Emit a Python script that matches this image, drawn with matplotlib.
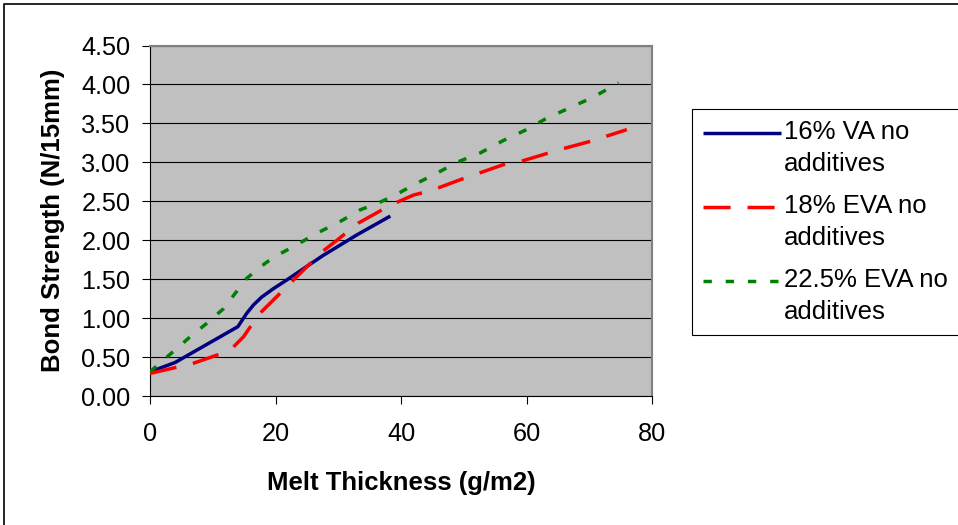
import matplotlib
matplotlib.use("Agg")
import matplotlib.pyplot as plt
from matplotlib.lines import Line2D
from matplotlib.legend_handler import HandlerLine2D

plt.rcParams['font.family'] = ['Liberation Sans', 'DejaVu Sans']
plt.rcParams['lines.scale_dashes'] = False

# ---- data ----
x_16va = [0, 4, 14, 15.4, 16.5, 17.8, 19.7, 21.8, 27.5, 33, 38.3]
y_16va = [0.31, 0.43, 0.89, 1.06, 1.17, 1.27, 1.38, 1.49, 1.80, 2.07, 2.31]

x_18eva = [0, 4.3, 6.9, 11.2, 13.3, 14.9, 16, 17.5, 22, 24.5, 27.4, 29.8, 33.2,
           36.1, 38.3, 42, 44.9, 49.2, 56.3, 59, 65.6, 70.2, 76]
y_18eva = [0.29, 0.37, 0.42, 0.54, 0.63, 0.76, 0.89, 1.06, 1.42, 1.62, 1.85, 2.00, 2.22,
           2.35, 2.45, 2.58, 2.64, 2.77, 2.97, 3.01, 3.17, 3.27, 3.42]

x_225eva = [0, 2.7, 6.4, 9, 11.7, 15.4, 18.3, 19.9, 22.9, 26.6, 30.3, 33.5, 36.7,
            39.1, 42, 45.7, 48.9, 52.6, 56.3, 60, 63.3, 66.9, 70.7, 74.7]
y_225eva = [0.31, 0.50, 0.76, 0.93, 1.12, 1.51, 1.70, 1.79, 1.92, 2.09, 2.24, 2.39, 2.49,
            2.58, 2.71, 2.86, 3.00, 3.12, 3.28, 3.42, 3.57, 3.70, 3.84, 4.02]

labels = ["16% VA no\nadditives", "18% EVA no\nadditives", "22.5% EVA no\nadditives"]
x_ticks = [0, 20, 40, 60, 80]
y_ticks = [0.0, 0.5, 1.0, 1.5, 2.0, 2.5, 3.0, 3.5, 4.0, 4.5]

W, H = 958, 525
fig = plt.figure(figsize=(W / 100, H / 100), dpi=100)
ax = fig.add_axes([150 / W, 1 - 396 / H, (652 - 150) / W, (396 - 45.5) / H])
ax.set_facecolor('#C0C0C0')

lw = 2.5
l1, = ax.plot(x_16va, y_16va, color='#000080', lw=lw, solid_capstyle='butt', zorder=3)
l2, = ax.plot(x_18eva, y_18eva, color='#FF0000', lw=lw, dashes=(19.5, 12.2),
              dash_capstyle='butt', zorder=3)
l3, = ax.plot(x_225eva, y_225eva, color='#008000', lw=lw, dashes=(6, 10),
              dash_capstyle='butt', zorder=3)

ax.set_xlim(0, 80)
ax.set_ylim(0, 4.5)
ax.set_xticks(x_ticks)
ax.set_xticklabels([str(v) for v in x_ticks])
ax.set_yticks(y_ticks)
ax.set_yticklabels([f"{v:.2f}" for v in y_ticks])
ax.grid(axis='y', color='black', lw=0.8)
ax.set_axisbelow(True)
ax.tick_params(axis='both', direction='out', length=5.5, width=0.8, color='black',
               labelsize=18.2)
ax.tick_params(axis='y', pad=8.5)
ax.tick_params(axis='x', pad=13)
for s in ['left', 'bottom']:
    ax.spines[s].set_color('black')
    ax.spines[s].set_linewidth(0.8)
for s in ['top', 'right']:
    ax.spines[s].set_color('#808080')
    ax.spines[s].set_linewidth(1.5)

ax.set_xlabel('Melt Thickness (g/m2)', fontsize=18.5, fontweight='bold', labelpad=18)
ax.set_ylabel('Bond Strength (N/15mm)', fontsize=18.5, fontweight='bold', labelpad=12)

LINESPACING = 1.43


class TopHandler(HandlerLine2D):
    def create_artists(self, legend, orig_handle, xdescent, ydescent, width, height,
                       fontsize, trans):
        arts = super().create_artists(legend, orig_handle, xdescent, ydescent, width,
                                      height, fontsize, trans)
        shift = 0.5 * LINESPACING * 0.84 * fontsize
        for a in arts:
            yd = a.get_ydata()
            a.set_ydata([v + shift for v in yd])
        return arts


leg = fig.legend([l1, l2, l3], labels, loc='upper left',
                 bbox_to_anchor=(692 / W, 1 - 109 / H), bbox_transform=fig.transFigure,
                 borderaxespad=0, fancybox=False, framealpha=1, edgecolor='black',
                 prop={'size': 18.5}, handlelength=3.05, handletextpad=0.12,
                 labelspacing=0.7, borderpad=0.42,
                 handler_map={Line2D: TopHandler()})
leg.get_frame().set_linewidth(0.8)
for t in leg.get_texts():
    t.set_linespacing(LINESPACING)

# outer chart border (left and top edges visible)
fig.add_artist(Line2D([4 / W, 4 / W, 1], [0, 1 - 4 / H, 1 - 4 / H],
                      transform=fig.transFigure, color='black', lw=1.2))

fig.savefig('out.png', dpi=100)
